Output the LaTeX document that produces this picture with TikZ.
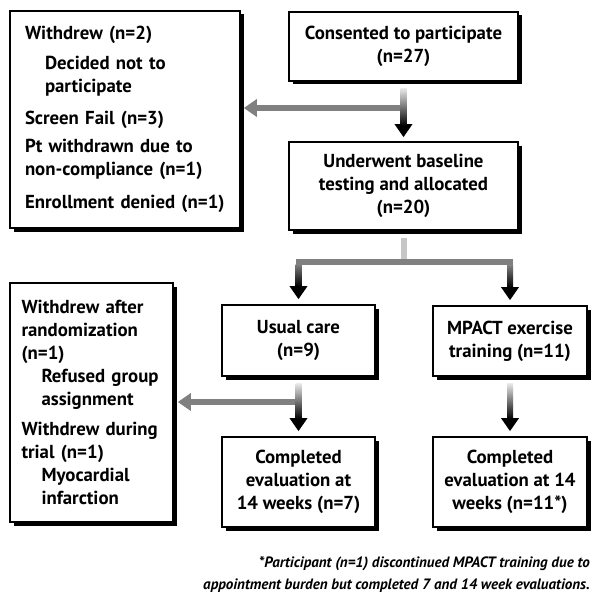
\documentclass[tikz,border=0pt]{standalone}
\usepackage{fontspec}
\setmainfont{PT Sans}
\usetikzlibrary{arrows.meta,shadows}

\begin{document}
\begin{tikzpicture}[x=1pt,y=-1pt,
    box/.style ={draw, line width=1.6pt, fill=white, align=center, inner sep=0pt,
      font=\fontsize{18.8}{23}\selectfont\bfseries,
      drop shadow={fill=black, opacity=1, shadow xshift=3.5pt, shadow yshift=-3.5pt}},
    listbox/.style ={box, align=left},
    flow/.style ={line width=6pt, gray, -{Triangle[width=17pt,length=13pt,black]}},
    branch/.style ={line width=6pt, gray, -{Triangle[width=17pt,length=13pt]}},
    note/.style ={align=right, inner sep=0pt, font=\fontsize{15}{22}\selectfont\bfseries\itshape}]
   \useasboundingbox (0,0) rectangle (601,607);
   % boxes
   \node[listbox, minimum width=230pt, minimum height=217pt, text width=200pt] (withdrew) at (125,119.5)
     {Withdrew (n=2)\\[7pt]
      \hspace*{20pt}Decided not to\\
      \hspace*{20pt}participate\\[9pt]
      Screen Fail (n=3)\\[5pt]
      Pt withdrawn due to\\
      non-compliance (n=1)\\[10pt]
      Enrollment denied (n=1)};
   \node[box, minimum width=229pt, minimum height=69pt] (consent) at (403.5,46.5)
     {Consented to participate\\(n=27)};
   \node[box, minimum width=229pt, minimum height=88pt] (baseline) at (403.5,186)
     {Underwent baseline\\testing and allocated\\(n=20)};
   \node[box, minimum width=153pt, minimum height=71pt] (usual) at (298.5,340.5)
     {Usual care\\(n=9)};
   \node[box, minimum width=154pt, minimum height=70pt] (mpact) at (510,341)
     {MPACT exercise\\training (n=11)};
   \node[box, minimum width=153pt, minimum height=90pt] (doneusual) at (298.5,482)
     {Completed\\evaluation at\\14 weeks (n=7)};
   \node[box, minimum width=154pt, minimum height=90pt] (donempact) at (510,482)
     {Completed\\evaluation at 14\\weeks (n=11*)};
   \node[listbox, minimum width=163pt, minimum height=239pt, text width=140pt] (withdrewb) at (91.5,402.5)
     {Withdrew after\\
      randomization\\
      (n=1)\\
      \hspace*{20pt}Refused group\\
      \hspace*{20pt}assignment\\[7pt]
      Withdrew during\\
      trial (n=1)\\
      \hspace*{20pt}Myocardial\\
      \hspace*{20pt}infarction};
   \node[note, anchor=north east] (note) at (590,556)
     {*Participant (n=1) discontinued MPACT training due to\\
      appointment burden but completed 7 and 14 week evaluations.};
   % arrows
   \coordinate (cut) at (403.5,108);
   \coordinate (split) at (403.5,262);
   \coordinate (cutb) at (298.5,402);
   \draw[branch, shorten >=3pt] (cut) -- (cut -| withdrew.east);
   \draw[flow, shorten <=7pt, shorten >=4pt] (consent) -- (baseline);
   \shade[top color=gray!20, bottom color=black] ([xshift=-3pt,yshift=-7pt]consent.south) rectangle ([xshift=3pt,yshift=-44pt]consent.south);
   \draw[line width=6pt, gray!45, shorten <=7pt] (baseline) -- (split);
   \draw[flow, shorten >=5pt] (split) -| (usual);
   \draw[flow, shorten >=5pt] (split) -| (mpact);
   \shade[top color=gray, bottom color=black] ([xshift=-3pt,yshift=40pt]usual.north) rectangle ([xshift=3pt,yshift=18pt]usual.north);
   \shade[top color=gray, bottom color=black] ([xshift=-3pt,yshift=40pt]mpact.north) rectangle ([xshift=3pt,yshift=18pt]mpact.north);
   \draw[branch, shorten >=4pt] (cutb) -- (cutb -| withdrewb.east);
   \draw[flow, shorten <=7pt, shorten >=5pt] (usual) -- (doneusual);
   \shade[top color=gray!20, bottom color=black] ([xshift=-3pt,yshift=-7pt]usual.south) rectangle ([xshift=3pt,yshift=-42pt]usual.south);
   \draw[flow, shorten <=7pt, shorten >=5pt] (mpact) -- (donempact);
   \shade[top color=gray!20, bottom color=black] ([xshift=-3pt,yshift=-7pt]mpact.south) rectangle ([xshift=3pt,yshift=-42pt]mpact.south);
\end{tikzpicture}
\end{document}
